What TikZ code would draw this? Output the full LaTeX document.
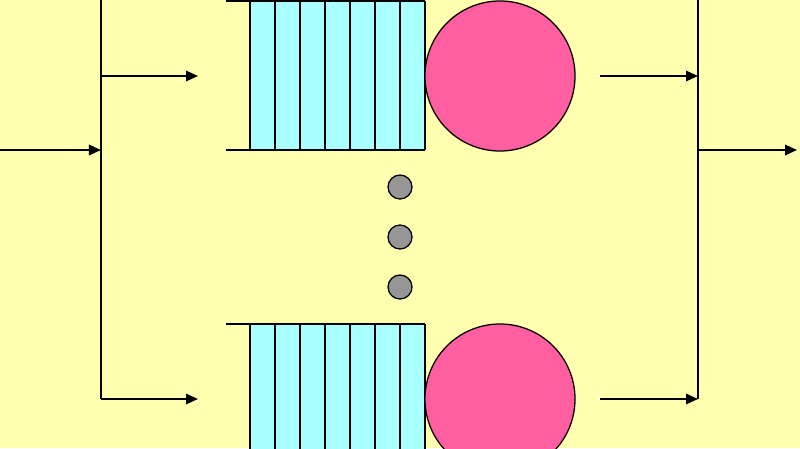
\documentclass[tikz,border=0pt]{standalone}
\usetikzlibrary{arrows.meta,positioning}
\definecolor{bgyellow}{RGB}{255,255,175}
\definecolor{qcyan}{RGB}{170,255,255}
\definecolor{srvpink}{RGB}{255,94,160}
\definecolor{dotgray}{RGB}{150,150,150}
\begin{document}
\begin{tikzpicture}[x=0.025cm,y=-0.025cm,line width=1.4pt]
	\tikzset{server/.style={circle,draw,line width=0.9pt,fill=srvpink,minimum size=3.75cm,inner sep=0pt}}
	\tikzset{waitdot/.style={circle,draw,line width=0.9pt,fill=dotgray,minimum size=0.6cm,inner sep=0pt}}
	\tikzset{feed/.style={-{Triangle[length=0.3cm,width=0.26cm]}}}
	\fill[bgyellow] (0,0) rectangle (800,448);
	\useasboundingbox (0,0) rectangle (800,448);
	\clip (0,0) rectangle (800,448);
	%\draw[help lines] (0,0) grid[step=50] (800,448);
	\foreach \n/\y in {1/76,2/399} {
		\fill[qcyan] (250,\y-75) rectangle (425,\y+74);
		\foreach \x in {250,275,...,425} \draw (\x,\y-75) -- (\x,\y+74);
		\draw (226,\y-75) -- (425,\y-75) (226,\y+74) -- (425,\y+74);
		\node[server] (s\n) at (500,\y) {};
		\coordinate (l\n) at (101,\y);
		\coordinate (a\n) at (198,\y);
		\coordinate (b\n) at (600,\y);
		\coordinate (r\n) at (698,\y);
		\draw[feed] (l\n) -- (a\n);
		\draw[feed] (b\n) -- (r\n);
	}
	\foreach \n/\y in {1/187,2/237,3/287} \node[waitdot] (d\n) at (400,\y) {};
	\coordinate (in) at (0,150);
	\coordinate (lsplit) at (101,150);
	\coordinate (ltop) at (101,-5);
	\coordinate (rtop) at (698,-5);
	\coordinate (rjoin) at (698,150);
	\coordinate (out) at (797,150);
	\draw (ltop) -- (l2);
	\draw (rtop) -- (r2);
	\draw[feed] (in) -- (lsplit);
	\draw[feed] (rjoin) -- (out);
\end{tikzpicture}
\end{document}
